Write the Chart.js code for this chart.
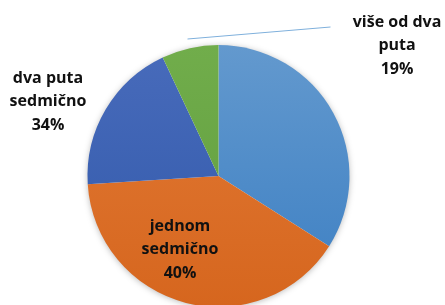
<!DOCTYPE html>
<html>
<head>
<meta charset="utf-8">
<script src="https://cdn.jsdelivr.net/npm/chart.js@4.4.1/dist/chart.umd.min.js"></script>
<style>
  html, body { margin: 0; padding: 0; background: #fff; overflow: hidden; }
  #wrap { width: 445px; height: 310px; position: relative; }
</style>
</head>
<body>
<div id="wrap"><canvas id="pita"></canvas></div>
<script>
// podaci
const kategorije = ['dva puta sedmično', 'jednom sedmično', 'više od dva puta', 'ostalo'];
const procenti = [34, 40, 19, 7];
// redovi teksta za oznake (prazno = bez oznake)
const oznakeRedovi = [
  ['dva puta', 'sedmično'],
  ['jednom', 'sedmično'],
  ['više od dva', 'puta'],
  []
];

// boje: gornja i donja nijansa svakog isječka
const bojeGore = ['#6399ce', '#e27a36', '#486bbb', '#71ad4b'];
const bojeDolje = ['#3c7fc3', '#d6661e', '#3159aa', '#5f9c3e'];

// položaji oznaka (centar prvog reda)
const polozaji = [[48, 78], [180, 226], [397, 22], null];
const razmakRedova = 23.5;

const sjenaPlugin = {
  id: 'sjena',
  beforeDatasetsDraw(chart) {
    const arc = chart.getDatasetMeta(0).data[0];
    if (!arc) return;
    const ctx = chart.ctx;
    ctx.save();
    ctx.shadowColor = 'rgba(0,0,0,0.35)';
    ctx.shadowBlur = 7;
    ctx.shadowOffsetY = 1;
    ctx.fillStyle = '#ffffff';
    ctx.beginPath();
    ctx.arc(arc.x, arc.y, arc.outerRadius - 1, 0, Math.PI * 2);
    ctx.fill();
    ctx.restore();
  }
};

const oznakePlugin = {
  id: 'oznake',
  afterDatasetsDraw(chart) {
    const ctx = chart.ctx;
    const meta = chart.getDatasetMeta(0);
    ctx.save();
    // linija vodilja za "više od dva puta"
    const arc = meta.data[2];
    ctx.strokeStyle = '#7fb0dc';
    ctx.lineWidth = 1;
    ctx.beginPath();
    ctx.moveTo(arc.x - 31, arc.y - 137);
    ctx.lineTo(arc.x + 112, arc.y - 149);
    ctx.stroke();

    ctx.font = 'bold 16px "Open Sans", sans-serif';
    ctx.fillStyle = '#111111';
    ctx.textAlign = 'center';
    ctx.textBaseline = 'middle';
    procenti.forEach((v, i) => {
      const p = polozaji[i];
      if (!p || oznakeRedovi[i].length === 0) return;
      const redovi = oznakeRedovi[i].concat([v + '%']);
      redovi.forEach((r, j) => ctx.fillText(r, p[0], p[1] + j * razmakRedova));
    });
    ctx.restore();
  }
};

new Chart(document.getElementById('pita'), {
  type: 'pie',
  data: {
    labels: kategorije,
    datasets: [{
      data: procenti,
      backgroundColor: function (c) {
        const area = c.chart.chartArea;
        if (!area) return bojeGore[c.dataIndex];
        const g = c.chart.ctx.createLinearGradient(0, area.top, 0, area.bottom);
        g.addColorStop(0, bojeGore[c.dataIndex]);
        g.addColorStop(1, bojeDolje[c.dataIndex]);
        return g;
      },
      borderWidth: 0
    }]
  },
  options: {
    responsive: true,
    maintainAspectRatio: false,
    animation: false,
    layout: { padding: { top: 45, bottom: 3, left: 0, right: 8 } },
    plugins: {
      legend: { display: false },
      tooltip: { enabled: false }
    }
  },
  plugins: [sjenaPlugin, oznakePlugin]
});
</script>
</body>
</html>
